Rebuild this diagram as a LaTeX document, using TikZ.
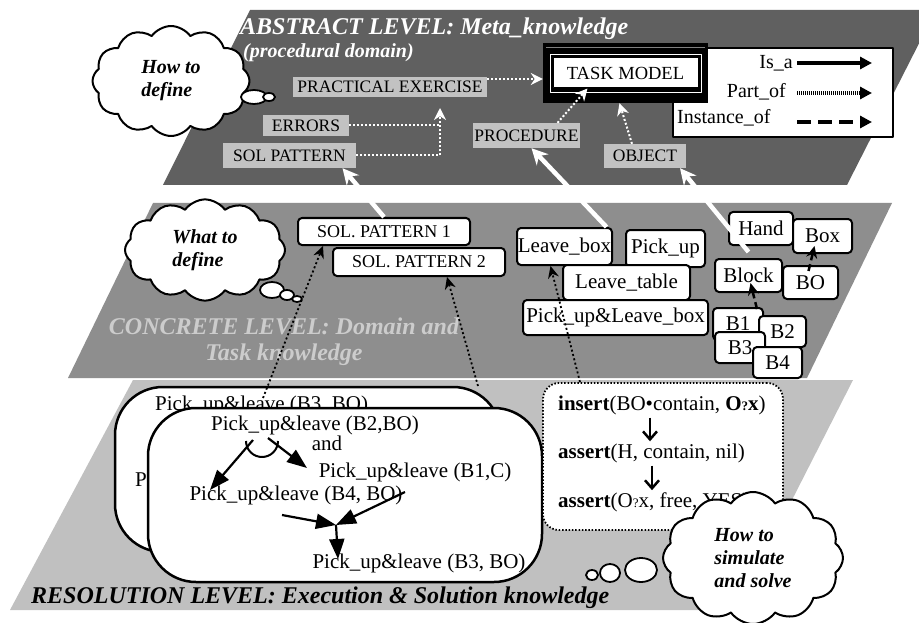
\documentclass[tikz,border=0pt]{standalone}
\usepackage{fontspec}
\setmainfont{Liberation Serif}
\usetikzlibrary{arrows.meta,shapes.symbols}
\definecolor{abstractgray}{RGB}{96,96,96}
\definecolor{concretegray}{RGB}{142,142,142}
\definecolor{resolutiongray}{RGB}{192,192,192}
\definecolor{boxgray}{RGB}{194,194,194}
\definecolor{titlegray}{RGB}{204,204,204}
\newcommand{\levelfont}{\fontsize{24}{26}\selectfont\bfseries\itshape}
\newcommand{\subfont}{\fontsize{20}{22}\selectfont\bfseries\itshape}
\newcommand{\thinkfont}{\fontsize{20}{23}\selectfont\bfseries\itshape}
\newcommand{\boxfont}{\fontsize{17.5}{19}\selectfont}
\newcommand{\patfont}{\fontsize{18}{20}\selectfont}
\newcommand{\nodefont}{\fontsize{21}{23}\selectfont}
\newcommand{\qm}{{\fontsize{13}{13}\selectfont ?}}

\begin{document}
\begin{tikzpicture}[x=1pt,y=-1pt,join=round, % three levels of knowledge
    graybox/.style={fill=boxgray,inner sep=0pt,font=\boxfont},
    conbox/.style={draw,line width=2pt,rounded corners=4pt,fill=white,inner sep=0pt,font=\nodefont},
    planbox/.style={draw,line width=2.5pt,rounded corners=48pt,fill=white,inner sep=0pt},
    lbl/.style={inner sep=0pt,font=\nodefont},
    thought/.style={cloud,cloud puffs=12,cloud puff arc=110,draw,line width=2pt,fill=white,inner sep=0pt,align=left,font=\thinkfont},
    bubble/.style={draw,line width=1.8pt,fill=white},
    isa/.style={white,line width=4.5pt,-{Stealth[length=16pt,width=16pt]}},
    partof/.style={white,line width=2pt,dash pattern=on 2pt off 2pt,-{Stealth[length=12pt,width=12pt]}},
    instof/.style={black,line width=1.8pt,dash pattern=on 2pt off 2.5pt,-{Stealth[length=12pt,width=11pt]}},
    dashinst/.style={black,line width=2.5pt,dash pattern=on 7pt off 4pt,-{Stealth[length=12pt,width=11pt]}},
    plan/.style={black,line width=2.2pt,-{Triangle[length=20pt,width=15pt]}},
    simarrow/.style={black,line width=2.5pt,-{Straight Barb[length=8pt,width=14pt]}}]
        \useasboundingbox (0,0) rectangle (919,623);
        \clip (0,0) rectangle (919,623);
        \fill[white] (0,0) rectangle (919,623);
        % the three planes
        \fill[abstractgray](250,10)--(936,10)--(847,185)--(163,185)--cycle;
        \fill[concretegray](153,203)--(892,203)--(807,378)--(68,378)--cycle;
        \fill[resolutiongray](133,380)--(853,380)--(736,610)--(10,610)--cycle;

        % abstract level
        \node[anchor=west,text=white,font=\levelfont,inner sep=0pt] (abstitle) at (240,29) {ABSTRACT LEVEL: Meta\_knowledge};
        \node[anchor=west,text=white,font=\subfont,inner sep=0pt] (abssub) at (243,53) {(procedural domain)};
        \node[graybox,minimum width=194pt,minimum height=20pt] (practical) at (390,87) {PRACTICAL EXERCISE};
        \node[graybox,minimum width=86pt,minimum height=21pt] (errors) at (306,125.5) {ERRORS};
        \node[graybox,minimum width=133pt,minimum height=25pt] (solpat) at (289.5,155.5) {SOL PATTERN};
        \node[graybox,minimum width=107pt,minimum height=25pt] (procedure) at (526.5,135.5) {PROCEDURE};
        \node[graybox,minimum width=82pt,minimum height=24pt] (object) at (645,156) {OBJECT};
        \node[draw,line width=1.5pt,fill=white,minimum width=220pt,minimum height=89pt,inner sep=0pt] (legend) at (783,92.5) {};
        \node[fill=black,minimum width=165pt,minimum height=60pt,inner sep=0pt] (taskframe) at (625.5,73) {};
        \draw[white,line width=0.8pt] (550,54) rectangle (701,92);
        \draw[gray,line width=0.6pt] (546,47) -- (705,47);
        \node[draw=black,fill=white,line width=1pt,minimum width=145pt,minimum height=30pt,inner sep=0pt,font=\fontsize{18.5}{20}\selectfont] (taskmodel) at (625.5,73) {TASK MODEL};
        \node[anchor=east,font=\fontsize{20}{22}\selectfont,inner sep=0pt] (isalbl) at (793,63) {Is\_a};
        \node[anchor=east,font=\fontsize{20}{22}\selectfont,inner sep=0pt] (partlbl) at (786,92) {Part\_of};
        \node[anchor=west,font=\fontsize{20}{22}\selectfont,inner sep=0pt] (instlbl) at (677,118) {Instance\_of};
        \coordinate (isa1) at (797,63);   \coordinate (isa2) at (872,63);
        \coordinate (part1) at (797,93);  \coordinate (part2) at (872,93);
        \coordinate (inst1) at (797,122); \coordinate (inst2) at (872,122);
        \draw[line width=4pt,-{Triangle[length=12pt,width=12pt]}] (isa1) -- (isa2);
        \draw[line width=4pt,dash pattern=on 1pt off 1pt,-{Triangle[length=12pt,width=12pt]}] (part1) -- (part2);
        \draw[line width=4pt,dash pattern=on 14pt off 7pt,-{Triangle[length=12pt,width=12pt]}] (inst1) -- (inst2);
        \node[thought,minimum width=157pt,minimum height=110pt] (howdefine) at (171,81) {How to\\define};
        \draw[bubble] (254,97) ellipse[x radius=13pt,y radius=7pt];
        \draw[bubble] (269,97) ellipse[x radius=6pt,y radius=4pt];
        % part_of links
        \coordinate (partjoin) at (440,108);
        \draw[partof] (solpat.east) -| (partjoin);
        \draw[white,line width=2pt,dash pattern=on 2pt off 2pt] (errors.east) -- (errors.east -| partjoin);
        \draw[partof] ([yshift=8pt]practical.east) -- ([yshift=8pt]practical.east -| taskframe.west);
        \draw[partof] ([xshift=31pt]procedure.north) -- ([xshift=-38pt]taskmodel.south);
        \draw[partof] ([xshift=-13pt]object.north) -- ([xshift=-6pt]taskframe.south);

        % concrete level
        \node[align=center,text=titlegray,font=\levelfont,inner sep=0pt] (contitle) at (284,342) {CONCRETE LEVEL: Domain and\\Task knowledge};
        \node[thought,minimum width=160pt,minimum height=100pt] (whatdefine) at (205,250) {What to\\define};
        \draw[bubble] (272,290) ellipse[x radius=12pt,y radius=8pt];
        \draw[bubble] (287,295) ellipse[x radius=7pt,y radius=5pt];
        \draw[bubble] (297,299) ellipse[x radius=5pt,y radius=3pt];
        \node[conbox,font=\patfont,minimum width=172pt,minimum height=27pt] (sp1) at (384,231.5) {SOL. PATTERN 1};
        \node[conbox,font=\patfont,minimum width=172pt,minimum height=28pt] (sp2) at (419,262) {SOL. PATTERN 2};
        \node[conbox,minimum width=95pt,minimum height=37pt] (leavebox) at (564.5,246.5) {Leave\_box};
        \node[conbox,minimum width=79pt,minimum height=37pt] (pickup) at (665.5,248.5) {Pick\_up};
        \node[conbox,minimum width=127pt,minimum height=35pt] (leavetable) at (626.5,282.5) {Leave\_table};
        \node[conbox,minimum width=185pt,minimum height=35pt] (pickleave) at (615.5,317.5) {Pick\_up\&Leave\_box};
        \node[conbox,minimum width=64pt,minimum height=33pt] (hand) at (761,228.5) {Hand};
        \node[conbox,minimum width=59pt,minimum height=34pt] (box) at (822.5,236) {Box};
        \node[conbox,minimum width=67pt,minimum height=33pt] (block) at (748.5,275.5) {Block};
        \node[conbox,minimum width=55pt,minimum height=33pt] (bo) at (810.5,282.5) {BO};
        \node[conbox,minimum width=50pt,minimum height=32pt] (b1) at (738,324) {B1};
        \node[conbox,minimum width=47pt,minimum height=31pt] (b2) at (782.5,331.5) {B2};
        \node[conbox,minimum width=50pt,minimum height=31pt] (b3) at (740,347.5) {B3};
        \node[conbox,minimum width=49pt,minimum height=31pt] (b4) at (777.5,362.5) {B4};
        \draw[dashinst] ([xshift=-2pt,yshift=-6pt]bo.north) -- ([xshift=-8pt,yshift=8pt]box.south);
        \draw[dashinst] ([xshift=19pt,yshift=-2pt]b1.north) -- ([xshift=2pt,yshift=10pt]block.south);
        % is_a links
        \draw[isa] (sp1.north) -- ([xshift=53pt]solpat.south);
        \draw[isa] ([xshift=42pt]leavebox.north) -- ([xshift=5pt]procedure.south);
        \draw[isa] ([yshift=6pt]block.north) -- ([xshift=35pt]object.south);

        % resolution level
        \node[planbox,minimum width=386pt,minimum height=165pt] (plan1) at (308,469.5) {};
        \node[lbl,anchor=west] (r1) at (155,405) {Pick\_up\&leave (B3, BO)};
        \node[lbl,anchor=west] (rp) at (135,480) {P};
        \node[planbox,minimum width=394pt,minimum height=174pt] (plan2) at (345,495) {};
        \node[lbl] (r2) at (315,425) {Pick\_up\&leave (B2,BO)};
        \node[lbl] (rand) at (327,443) {and};
        \node[lbl] (r3) at (415,472) {Pick\_up\&leave (B1,C)};
        \node[lbl] (r4) at (296,495) {Pick\_up\&leave (B4, BO)};
        \node[lbl] (r5) at (419,563) {Pick\_up\&leave (B3, BO)};
        \coordinate (andl) at (253,440);  \coordinate (andr) at (268,438);
        \coordinate (r4tip) at (210,490); \coordinate (r3tip) at (307,468);
        \coordinate (r4end) at (282,515); \coordinate (r3end) at (405,492);
        \coordinate (join) at (336,525);  \coordinate (r5tip) at (338,559);
        \draw[plan] (andl) -- (r4tip);
        \draw[plan] (andr) -- (r3tip);
        \draw[line width=2pt] (246,441) arc[start angle=180,end angle=360,radius=16pt];
        \draw[plan] (r4end) -- (join);
        \draw[plan] (r3end) -- (join);
        \draw[plan] (join) -- (r5tip);
        \node[draw,line width=1.8pt,dash pattern=on 1.5pt off 1.8pt,rounded corners=16pt,fill=white,minimum width=240pt,minimum height=147pt,inner sep=0pt] (simbox) at (663,456.5) {};
        \node[lbl,anchor=west] (s1) at (558,405) {\textbf{insert}(BO\textbullet contain, \textbf{O\qm x})};
        \node[lbl,anchor=west] (s2) at (558,453) {\textbf{assert}(H, contain, nil)};
        \node[lbl,anchor=west] (s3) at (558,502) {\textbf{assert}(O\qm x, free, YES)};
        \draw[simarrow] ([xshift=92pt,yshift=-3pt]s1.south west) -- ([xshift=92pt,yshift=2pt]s2.north west);
        \draw[simarrow] ([xshift=94pt,yshift=-3pt]s2.south west) -- ([xshift=94pt,yshift=2pt]s3.north west);
        \node[anchor=west,font=\levelfont,inner sep=0pt] (restitle) at (31,598) {RESOLUTION LEVEL: Execution \& Solution knowledge};
        \draw[bubble] (592,575) ellipse[x radius=6pt,y radius=5pt];
        \draw[bubble] (610,573) ellipse[x radius=10pt,y radius=9pt];
        \draw[bubble] (641,570) ellipse[x radius=16pt,y radius=12pt];
        \node[thought,minimum width=180pt,minimum height=132pt] (howsim) at (753,558) {How to\\simulate\\and solve};
        % instance_of links
        \coordinate (r1top) at (263,398);
        \coordinate (plan2top) at (478,386);
        \draw[instof] (r1top) -- ([xshift=-61pt]sp1.south);
        \draw[instof] (plan2top) -- ([xshift=28pt]sp2.south);
        \draw[instof] ([xshift=-83pt]simbox.north) -- ([xshift=-14pt]leavebox.south);
    \end{tikzpicture}
\end{document}
